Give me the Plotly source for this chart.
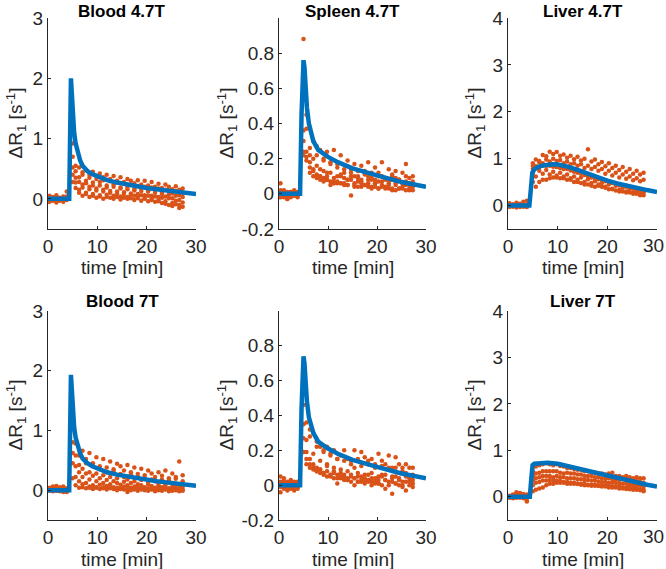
import plotly.graph_objects as go

W, H = 666, 569

# ---------------- data ----------------
t_samples = [0.3, 1.0, 1.7, 2.4, 3.1, 3.8,
             5.0, 5.6, 6.3, 7.0, 7.7, 8.4, 9.1, 9.8, 10.5, 11.2, 11.9, 12.6, 13.3, 14.0,
             14.7, 15.4, 16.1, 16.8, 17.5, 18.2, 18.9, 19.6, 20.3, 21.0, 21.7, 22.4,
             23.1, 23.8, 24.5, 25.2, 25.9, 26.6, 27.3]

blood47_pts = [
    [0.05,0.02,0.06,0.01,0.04,0.12, 0.92,0.55,0.52,0.44,0.48,0.40,0.45,0.38,0.42,0.36,0.40,0.33,0.38,0.30,0.36,0.28,0.33,0.30,0.26,0.31,0.24,0.30,0.22,0.28,0.20,0.25,0.18,0.24,0.20,0.16,0.21,0.15,0.17],
    [0.01,0.03,-0.02,0.02,0.00,0.03, 0.70,0.46,0.36,0.40,0.30,0.35,0.27,0.33,0.28,0.31,0.22,0.29,0.24,0.27,0.19,0.25,0.20,0.23,0.16,0.21,0.17,0.20,0.13,0.19,0.14,0.17,0.10,0.15,0.12,0.09,0.13,0.06,0.10],
    [-0.03,-0.01,-0.04,0.00,-0.02,0.01, 0.52,0.35,0.28,0.24,0.26,0.20,0.22,0.17,0.22,0.15,0.19,0.13,0.20,0.12,0.17,0.11,0.16,0.09,0.14,0.08,0.13,0.06,0.12,0.05,0.10,0.03,0.08,0.04,0.07,0.01,0.05,-0.02,0.03],
    [-0.05,-0.03,-0.06,-0.02,-0.05,-0.02, 0.40,0.27,0.15,0.19,0.10,0.16,0.08,0.14,0.06,0.12,0.07,0.10,0.05,0.09,0.04,0.08,0.03,0.07,0.05,0.04,0.06,0.01,0.05,0.00,0.04,-0.02,0.02,-0.04,0.01,-0.07,-0.03,-0.10,-0.06],
    [0.02,-0.02,0.00,-0.03,0.02,0.04, 0.28,0.18,0.10,0.05,0.08,0.03,0.05,0.02,0.04,0.00,0.03,0.02,0.00,0.03,-0.01,0.02,0.00,0.01,-0.02,0.01,-0.03,0.00,-0.04,-0.02,-0.05,-0.04,-0.07,-0.08,-0.10,-0.12,-0.09,-0.15,-0.13],
]
spleen47_pts = [
    [0.06,0.01,0.00,0.01,-0.01,0.01, 0.88,0.45,0.26,0.30,0.22,0.25,0.19,0.24,0.17,0.25,0.15,0.22,0.12,0.19,0.14,0.17,0.10,0.16,0.13,0.18,0.09,0.15,0.12,0.18,0.08,0.14,0.10,0.13,0.08,0.12,0.17,0.09,0.10],
    [0.02,-0.02,0.01,0.00,-0.01,0.00, 0.36,0.37,0.22,0.20,0.27,0.14,0.20,0.12,0.18,0.09,0.17,0.11,0.14,0.08,0.12,0.10,0.13,0.07,0.11,0.06,0.12,0.08,0.10,0.05,0.09,0.07,0.11,0.05,0.08,0.06,0.10,0.05,0.07],
    [-0.01,0.00,-0.03,-0.01,0.00,-0.01, 0.30,0.24,0.18,0.14,0.16,0.10,0.13,0.08,0.12,0.07,0.10,0.06,0.09,0.05,0.08,0.04,0.07,0.06,0.05,0.08,0.04,0.06,0.03,0.07,0.04,0.05,0.02,0.06,0.03,0.04,0.05,0.02,0.04],
    [-0.02,-0.01,-0.03,-0.02,-0.01,-0.02, 0.24,0.21,0.15,0.13,0.11,0.10,0.09,0.08,0.07,0.06,0.06,0.06,0.05,0.05,-0.01,0.05,0.04,0.04,0.05,0.04,0.03,0.04,0.03,0.04,0.03,0.03,0.03,0.02,0.03,0.03,0.02,0.03,0.02],
    [0.00,0.02,-0.01,0.01,0.02,0.00, 0.22,0.19,0.12,0.10,0.09,0.08,0.07,0.10,0.05,0.06,0.07,0.10,0.06,0.08,0.10,0.06,0.09,0.08,0.12,0.10,0.08,0.06,0.07,0.10,0.09,0.06,0.08,0.09,0.08,0.06,0.07,0.06,0.05],
]
liver47_pts = [
    [0.05,0.03,0.06,0.04,0.08,0.10, 0.90,0.98,0.95,1.08,1.05,1.15,1.10,1.14,1.06,1.09,1.02,1.06,0.99,1.04,0.96,1.00,1.20,0.94,0.98,0.88,0.93,0.84,0.90,0.80,0.85,0.76,0.82,0.72,0.78,0.68,0.74,0.66,0.70],
    [0.02,0.00,0.03,0.01,0.02,0.00, 0.85,0.84,0.92,0.90,0.98,0.94,1.00,0.95,0.97,0.90,0.94,0.88,0.90,0.85,0.88,0.80,0.85,0.78,0.82,0.74,0.78,0.68,0.74,0.64,0.70,0.60,0.66,0.57,0.62,0.54,0.58,0.52,0.55],
    [-0.01,-0.02,0.00,-0.01,0.00,-0.02, 0.78,0.80,0.82,0.85,0.85,0.85,0.83,0.82,0.80,0.78,0.78,0.75,0.72,0.70,0.68,0.65,0.62,0.60,0.58,0.56,0.55,0.52,0.50,0.48,0.45,0.43,0.42,0.40,0.38,0.36,0.35,0.32,0.30],
    [-0.03,-0.02,-0.04,-0.03,-0.02,-0.03, 0.70,0.62,0.74,0.68,0.76,0.66,0.72,0.64,0.70,0.62,0.66,0.58,0.62,0.55,0.60,0.50,0.56,0.48,0.52,0.45,0.48,0.40,0.45,0.36,0.42,0.33,0.38,0.30,0.35,0.28,0.32,0.26,0.28],
    [0.01,-0.01,0.02,0.00,-0.02,0.01, 0.50,0.40,0.50,0.55,0.55,0.58,0.60,0.60,0.58,0.58,0.55,0.55,0.50,0.50,0.48,0.45,0.45,0.42,0.40,0.42,0.40,0.38,0.35,0.35,0.32,0.30,0.30,0.28,0.28,0.25,0.25,0.22,0.22],
]
blood7_pts = [
    [0.04,0.06,0.07,0.05,0.06,0.03, 1.05,0.78,0.58,0.66,0.52,0.62,0.45,0.55,0.40,0.52,0.38,0.48,0.35,0.44,0.40,0.33,0.42,0.30,0.38,0.27,0.36,0.25,0.33,0.28,0.22,0.30,0.24,0.33,0.20,0.28,0.22,0.48,0.25],
    [0.02,0.03,0.00,0.02,0.04,0.00, 0.80,0.58,0.42,0.36,0.45,0.30,0.40,0.28,0.35,0.25,0.30,0.22,0.32,0.20,0.27,0.22,0.18,0.26,0.15,0.22,0.17,0.20,0.13,0.18,0.15,0.12,0.18,0.10,0.16,0.12,0.19,0.10,0.15],
    [0.00,-0.01,0.01,0.00,-0.01,0.01, 0.62,0.40,0.30,0.22,0.28,0.18,0.24,0.15,0.20,0.12,0.17,0.10,0.15,0.12,0.09,0.14,0.08,0.12,0.06,0.10,0.08,0.05,0.09,0.07,0.04,0.08,0.05,0.07,0.03,0.06,0.08,0.04,0.06],
    [-0.01,-0.02,0.00,-0.02,-0.03,-0.03, 0.45,0.22,0.15,0.10,0.12,0.06,0.08,0.04,0.09,0.05,0.07,0.03,0.05,0.04,0.02,0.06,-0.03,0.04,0.02,0.05,0.01,0.03,0.02,0.04,0.00,0.03,0.01,0.02,0.00,0.01,0.03,0.00,0.01],
    [0.01,0.00,-0.01,0.01,0.00,-0.02, 0.20,0.08,0.04,0.05,0.03,0.04,0.02,0.05,0.02,0.03,0.01,0.04,0.02,0.00,0.03,0.01,0.02,0.00,0.01,-0.01,0.02,0.00,-0.01,0.01,-0.02,0.00,-0.01,0.01,-0.02,-0.01,0.00,-0.02,-0.01],
]
spleen7_pts = [
    [0.05,0.04,0.02,0.03,0.02,0.01, 0.46,0.36,0.32,0.30,0.25,0.22,0.20,0.22,0.18,0.20,0.15,0.17,0.20,0.15,0.14,0.20,0.15,0.19,0.16,0.14,0.15,0.12,0.18,0.14,0.12,0.17,0.10,0.16,0.12,0.10,0.12,0.10,0.10],
    [0.02,0.00,0.01,0.02,0.01,0.00, 0.35,0.26,0.28,0.18,0.22,0.14,0.19,0.12,0.17,0.10,0.15,0.09,0.14,0.08,0.12,0.10,0.07,0.11,0.06,0.12,0.07,0.10,0.05,0.11,0.06,0.09,0.05,0.10,0.04,0.08,0.07,0.05,0.06],
    [-0.01,0.00,-0.02,-0.01,0.00,-0.01, 0.27,0.19,0.15,0.12,0.10,0.09,0.07,0.11,0.06,0.08,0.04,0.07,0.05,0.03,0.06,0.04,0.02,0.05,0.03,0.06,0.02,0.04,0.01,0.05,0.03,0.02,0.04,0.01,0.03,0.00,0.02,0.04,0.01],
    [-0.04,-0.02,-0.03,-0.02,-0.03,-0.02, 0.19,0.15,0.12,0.10,0.08,0.07,0.06,0.05,0.05,0.04,0.01,0.04,0.03,0.03,0.02,0.00,0.02,0.02,0.01,0.02,0.00,0.01,0.01,0.00,-0.02,0.00,-0.05,0.01,0.00,-0.01,-0.03,0.00,-0.01],
    [0.00,0.02,-0.01,0.01,-0.02,0.02, 0.19,0.12,0.10,0.09,0.08,0.09,0.07,0.08,0.06,0.07,0.06,0.05,0.06,0.04,0.05,0.04,0.05,0.03,0.04,0.03,0.04,0.02,0.03,0.06,0.03,0.10,0.02,0.05,0.03,0.02,0.05,0.02,0.03],
]
liver7_pts = [
    [0.02,0.05,0.10,0.08,0.06,0.05, 0.55,0.65,0.68,0.70,0.72,0.70,0.68,0.70,0.66,0.65,0.62,0.62,0.60,0.58,0.58,0.55,0.55,0.52,0.52,0.50,0.50,0.48,0.50,0.52,0.45,0.45,0.42,0.45,0.42,0.40,0.42,0.40,0.40],
    [0.00,0.02,0.01,0.00,0.02,0.01, 0.45,0.50,0.52,0.55,0.55,0.55,0.55,0.55,0.52,0.50,0.52,0.50,0.50,0.48,0.48,0.45,0.45,0.45,0.42,0.42,0.40,0.40,0.40,0.38,0.38,0.36,0.38,0.35,0.35,0.32,0.34,0.32,0.30],
    [-0.01,0.00,-0.02,0.00,-0.01,-0.10, 0.35,0.40,0.42,0.45,0.45,0.45,0.42,0.45,0.42,0.42,0.40,0.40,0.40,0.38,0.38,0.36,0.36,0.35,0.35,0.33,0.32,0.32,0.30,0.30,0.30,0.28,0.28,0.28,0.26,0.25,0.25,0.24,0.22],
    [-0.02,-0.03,-0.01,-0.02,-0.03,-0.08, 0.25,0.30,0.32,0.35,0.35,0.36,0.35,0.35,0.34,0.32,0.32,0.30,0.30,0.28,0.28,0.28,0.26,0.26,0.26,0.25,0.25,0.24,0.24,0.22,0.22,0.22,0.20,0.20,0.20,0.18,0.18,0.16,0.15],
    [0.01,-0.02,0.02,0.00,-0.01,0.01, 0.12,0.15,0.18,0.20,0.25,0.28,0.28,0.30,0.30,0.30,0.28,0.28,0.28,0.28,0.26,0.25,0.25,0.24,0.24,0.23,0.22,0.22,0.20,0.20,0.20,0.18,0.18,0.17,0.16,0.15,0.15,0.14,0.12],
]

blood_fit_t = [0, 4.3, 4.65, 4.85, 5.0, 5.3, 5.6, 6.0, 6.5, 7, 8, 9, 10, 12, 14, 16, 18, 20, 22, 24, 26, 28, 30]
blood47_fit = [0, 0, 2.0, 1.7, 1.4, 1.1, 0.92, 0.76, 0.64, 0.55, 0.46, 0.41, 0.37, 0.31, 0.27, 0.235, 0.205, 0.18, 0.16, 0.14, 0.12, 0.10, 0.08]
blood7_fit = [0, 0, 1.93, 1.62, 1.33, 1.05, 0.88, 0.73, 0.62, 0.53, 0.45, 0.40, 0.36, 0.30, 0.26, 0.23, 0.20, 0.17, 0.15, 0.13, 0.11, 0.09, 0.075]

spleen_fit_t = [0, 4.3, 4.6, 4.85, 5.0, 5.2, 5.4, 5.7, 6.1, 6.5, 7, 8, 10, 12, 15, 20, 25, 30]
spleen47_fit = [0, 0, 0.45, 0.74, 0.76, 0.72, 0.62, 0.49, 0.40, 0.345, 0.30, 0.25, 0.21, 0.18, 0.145, 0.105, 0.067, 0.04]
spleen7_fit = [0, 0, 0.44, 0.72, 0.74, 0.70, 0.60, 0.48, 0.39, 0.34, 0.30, 0.25, 0.21, 0.18, 0.145, 0.105, 0.067, 0.04]

liver47_fit_t = [0, 4.3, 4.6, 4.9, 5.3, 6, 7, 8, 9, 10, 12, 14, 16, 18, 20, 22, 25, 28, 30]
liver47_fit = [0, 0, 0.35, 0.70, 0.77, 0.82, 0.855, 0.875, 0.88, 0.875, 0.83, 0.76, 0.68, 0.60, 0.53, 0.47, 0.39, 0.33, 0.29]
liver7_fit_t = [0, 4.4, 4.7, 4.95, 5.3, 6, 8, 10, 12, 15, 18, 20, 22, 25, 28, 30]
liver7_fit = [0, 0, 0.40, 0.68, 0.71, 0.72, 0.73, 0.71, 0.66, 0.57, 0.49, 0.44, 0.40, 0.33, 0.26, 0.22]

titles = ["Blood 4.7T", "Spleen 4.7T", "Liver 4.7T", "Blood 7T", "", "Liver 7T"]
x_ticks = [0, 10, 20, 30]
x_ticktext = ["0", "10", "20", "30"]
x_ticktext_edge = ["0", "10", "20", ""]   # right column: "30" drawn as a text kept inside the page
blood_ticks = [0, 1, 2, 3]
spleen_ticks = [-0.2, 0, 0.2, 0.4, 0.6, 0.8]
spleen_ticktext = ["-0.2", "0", "0.2", "0.4", "0.6", "0.8"]
liver_ticks = [0, 1, 2, 3, 4]

# ---------------- layout geometry (pixels) ----------------
col_x = [(48, 196), (279, 426), (508, 657)]
row_y = [(18, 229), (311, 520)]

panels = [
    (blood47_pts, blood_fit_t, blood47_fit, [-0.5, 3], blood_ticks, None),
    (spleen47_pts, spleen_fit_t, spleen47_fit, [-0.2, 1.0], spleen_ticks, spleen_ticktext),
    (liver47_pts, liver47_fit_t, liver47_fit, [-0.5, 4], liver_ticks, None),
    (blood7_pts, blood_fit_t, blood7_fit, [-0.5, 3], blood_ticks, None),
    (spleen7_pts, spleen_fit_t, spleen7_fit, [-0.2, 1.0], spleen_ticks, spleen_ticktext),
    (liver7_pts, liver7_fit_t, liver7_fit, [-0.5, 4], liver_ticks, None),
]

FONT = "Liberation Sans, Arial, Helvetica, sans-serif"
TXT = "#262626"
BLUE = "#0072BD"
ORANGE = "#D95319"

fig = go.Figure()
layout = dict(
    width=W, height=H, margin=dict(l=0, r=0, t=0, b=0, autoexpand=False),
    paper_bgcolor="white", plot_bgcolor="white", showlegend=False,
    font=dict(family=FONT, color=TXT, size=19),
)
annotations = []

ylab_x = [16, 227, 475]
for i, (pts, ft, fy, yr, yt, ytt) in enumerate(panels):
    r, c = divmod(i, 3)
    k = "" if i == 0 else str(i + 1)
    x0, x1 = col_x[c]
    ytop, ybot = row_y[r]
    xs, ys = [], []
    for row in pts:
        for t, v in zip(t_samples, row):
            xs.append(t)
            ys.append(v)
    fig.add_trace(go.Scatter(x=xs, y=ys, mode="markers", xaxis="x" + k, yaxis="y" + k,
                             marker=dict(color=ORANGE, size=4.5, line=dict(width=0))))
    fig.add_trace(go.Scatter(x=ft, y=fy, mode="lines", xaxis="x" + k, yaxis="y" + k,
                             line=dict(color=BLUE, width=4.5)))
    layout["xaxis" + k] = dict(
        domain=[x0 / W, x1 / W], anchor="y" + k, range=[0, 30], automargin=False,
        tickvals=x_ticks, ticktext=(x_ticktext_edge if c == 2 else x_ticktext),
        ticks="inside", ticklen=3, tickcolor=TXT,
        showline=True, linecolor=TXT, linewidth=1, showgrid=False, zeroline=False,
        tickfont=dict(size=19, color=TXT, family=FONT),
    )
    yax = dict(
        domain=[1 - ybot / H, 1 - ytop / H], anchor="x" + k, range=yr, automargin=False,
        tickvals=yt, ticks="inside", ticklen=3, tickcolor=TXT,
        showline=True, linecolor=TXT, linewidth=1, showgrid=False, zeroline=False,
        tickfont=dict(size=19, color=TXT, family=FONT),
    )
    if ytt is not None:
        yax["ticktext"] = ytt
    layout["yaxis" + k] = yax

    cx = (x0 + x1) / 2
    if titles[i]:
        ty = 0 if r == 0 else ytop - 21
        annotations.append(dict(text="<b>%s</b>" % titles[i], x=cx / W, y=1 - ty / H,
                                xref="paper", yref="paper", xanchor="center", yanchor="top",
                                showarrow=False, font=dict(size=17, color="black", family=FONT)))
    annotations.append(dict(text="time [min]", x=cx / W, y=1 - (ybot + 39) / H,
                            xref="paper", yref="paper", xanchor="center", yanchor="middle",
                            showarrow=False, font=dict(size=19, color=TXT, family=FONT)))
    annotations.append(dict(text="ΔR<sub>1</sub> [s<sup>-1</sup>]", x=ylab_x[c] / W,
                            y=1 - ((ytop + ybot) / 2) / H, textangle=-90,
                            xref="paper", yref="paper", xanchor="center", yanchor="middle",
                            showarrow=False, font=dict(size=19, color=TXT, family=FONT)))
    if c == 2:
        annotations.append(dict(text=x_ticktext[-1], x=1.0, y=1 - (ybot + 16.5) / H,
                                xref="paper", yref="paper", xanchor="right", yanchor="middle",
                                showarrow=False, font=dict(size=19, color=TXT, family=FONT)))

layout["annotations"] = annotations
fig.update_layout(**layout)
fig.write_html("out.html", config={"displayModeBar": False},
               post_script="document.body.style.margin='0px';")
